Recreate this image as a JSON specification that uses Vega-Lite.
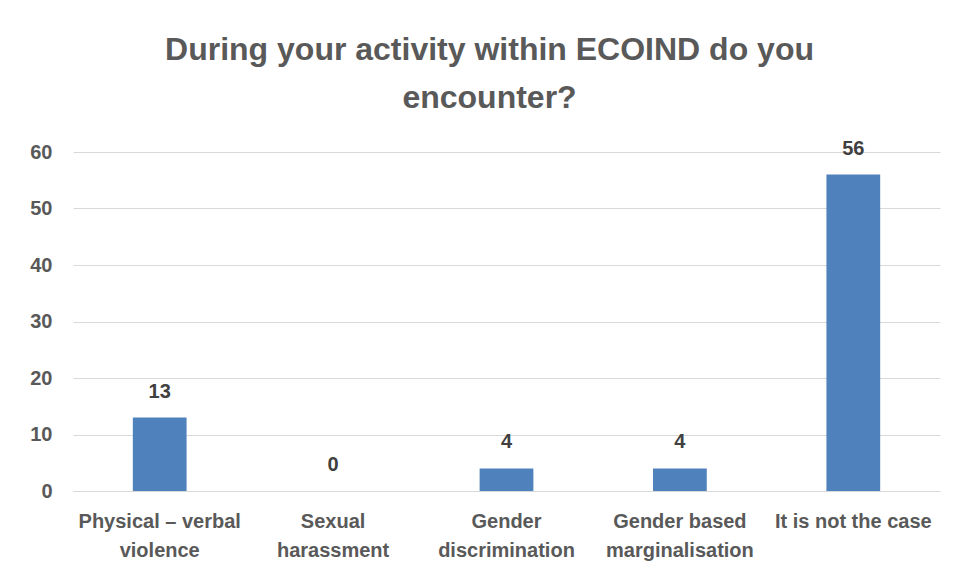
{
  "$schema": "https://vega.github.io/schema/vega-lite/v6.json",
  "width": 867,
  "height": 339,
  "autosize": {"type": "none"},
  "padding": {"left": 73, "top": 152, "right": 14, "bottom": 87},
  "background": "white",
  "title": {
    "text": ["During your activity within ECOIND do you", "encounter?"],
    "font": "Liberation Sans",
    "fontSize": 32,
    "fontWeight": "bold",
    "color": "#595959",
    "anchor": "middle",
    "dx": -17,
    "offset": 24,
    "lineHeight": 48
  },
  "data": {
    "values": [
      {"category": "Physical – verbal violence", "count": 13},
      {"category": "Sexual harassment", "count": 0},
      {"category": "Gender discrimination", "count": 4},
      {"category": "Gender based marginalisation", "count": 4},
      {"category": "It is not the case", "count": 56}
    ]
  },
  "encoding": {
    "x": {
      "field": "category",
      "type": "nominal",
      "sort": null,
      "scale": {"paddingInner": 0.69, "paddingOuter": 0.345},
      "axis": {
        "title": null,
        "labelAngle": 0,
        "labelFont": "Liberation Sans",
        "labelFontSize": 20,
        "labelFontWeight": "bold",
        "labelColor": "#595959",
        "labelPadding": 20,
        "labelLineHeight": 29,
        "ticks": false,
        "domain": true,
        "domainColor": "#d9d9d9",
        "labelExpr": "datum.value == 'Physical – verbal violence' ? ['Physical – verbal', 'violence'] : datum.value == 'Sexual harassment' ? ['Sexual', 'harassment'] : datum.value == 'Gender discrimination' ? ['Gender', 'discrimination'] : datum.value == 'Gender based marginalisation' ? ['Gender based', 'marginalisation'] : datum.value"
      }
    },
    "y": {
      "field": "count",
      "type": "quantitative",
      "scale": {"domain": [0, 60]},
      "axis": {
        "title": null,
        "values": [0, 10, 20, 30, 40, 50, 60],
        "labelFont": "Liberation Sans",
        "labelFontSize": 20,
        "labelFontWeight": "bold",
        "labelColor": "#595959",
        "labelPadding": 21,
        "ticks": false,
        "domain": false,
        "gridColor": "#d9d9d9",
        "gridWidth": 1
      }
    }
  },
  "layer": [
    {"mark": {"type": "bar", "color": "#4f81bd"}},
    {
      "mark": {
        "type": "text",
        "baseline": "bottom",
        "dy": -16,
        "font": "Liberation Sans",
        "fontSize": 20,
        "fontWeight": "bold",
        "color": "#404040"
      },
      "encoding": {"text": {"field": "count", "type": "quantitative"}}
    }
  ],
  "config": {"view": {"stroke": null}}
}
